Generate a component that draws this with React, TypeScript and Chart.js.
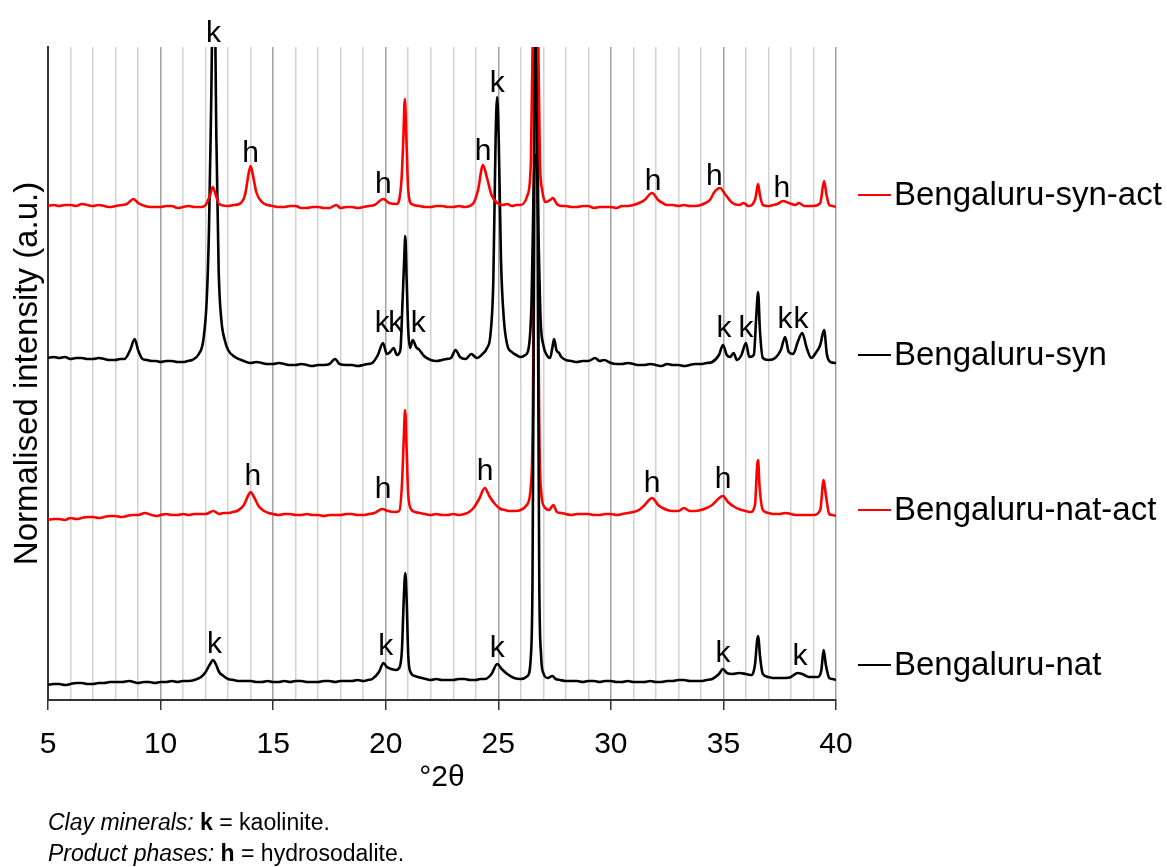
import { useEffect, useRef } from "react";
import { Chart, registerables } from "chart.js";

Chart.register(...registerables);

type Pt = [number, number];

const FONT = "'Liberation Sans', Arial, Helvetica, sans-serif";

// Series names, colours and the level (a.u.) at which each right-hand label sits
const SERIES_NAMES = ["Bengaluru-syn-act", "Bengaluru-syn", "Bengaluru-nat-act", "Bengaluru-nat"];
const SERIES_COLORS = ["#ff0000", "#000000", "#ff0000", "#000000"];
const LABEL_LEVELS = [505, 345, 190, 35];

// Diffractograms, [°2θ, normalised intensity with vertical offset]
const SYN_ACT: Pt[] = [
  [5.0, 494], [5.25, 495], [5.5, 494], [5.75, 495], [6.0, 495], [6.25, 494], [6.5, 496], [6.75, 495],
  [7.0, 494], [7.25, 495], [7.5, 494], [7.75, 493], [8.0, 494], [8.3, 495], [8.5, 496],
  [8.8, 501], [9.0, 497], [9.3, 494], [9.6, 493], [10.0, 493], [10.25, 494], [10.5, 494], [10.75, 492], [11.0, 493],
  [11.25, 494], [11.5, 493], [11.8, 493], [12.0, 495],
  [12.2, 505], [12.32, 513], [12.45, 505], [12.6, 496], [13.0, 494], [13.25, 495], [13.5, 496], [13.75, 505], [13.9, 525],
  [14.0, 534], [14.1, 525], [14.25, 508], [14.5, 498], [14.75, 495], [15.0, 494], [15.25, 493], [15.5, 493], [15.75, 494],
  [16.0, 494], [16.25, 492], [16.5, 492], [16.75, 493], [17.0, 493], [17.25, 492], [17.5, 492], [17.8, 495], [18.0, 492],
  [18.25, 493], [18.5, 493], [18.75, 492], [19.0, 493], [19.25, 494], [19.5, 495], [19.9, 501],
  [20.15, 497], [20.5, 496], [20.7, 520], [20.78, 560], [20.85, 601], [20.92, 560], [21.0, 510], [21.15, 496],
  [21.5, 494], [21.75, 493], [22.0, 493], [22.25, 494], [22.5, 494], [22.75, 493], [23.0, 493], [23.25, 494],
  [23.5, 493], [23.9, 497], [24.1, 510], [24.32, 535],
  [24.5, 522], [24.7, 505], [24.95, 497], [25.2, 495], [25.4, 496], [25.6, 494], [25.8, 495], [26.0, 495], [26.3, 505],
  [26.45, 540], [26.55, 700], [26.65, 800], [26.75, 700], [26.85, 540], [26.95, 510], [27.1, 498], [27.3, 500],
  [27.43, 502], [27.6, 496], [27.8, 494], [28.0, 494], [28.25, 493], [28.5, 493], [28.75, 494], [29.0, 494],
  [29.25, 492], [29.5, 493], [29.75, 493], [30.0, 493], [30.25, 492], [30.5, 494], [30.75, 494],
  [31.0, 495], [31.25, 497], [31.5, 500], [31.83, 507], [32.1, 500], [32.3, 497], [32.5, 495], [32.75, 495], [33.0, 494],
  [33.25, 495], [33.5, 494], [33.75, 494], [34.0, 495],
  [34.2, 497], [34.4, 500], [34.6, 508], [34.85, 512], [35.1, 505], [35.4, 497], [35.7, 495], [35.9, 497], [36.1, 494],
  [36.4, 500], [36.5, 512], [36.54, 516], [36.62, 505], [36.75, 495], [37.0, 494], [37.2, 495], [37.4, 496], [37.65, 499],
  [37.9, 497], [38.2, 495], [38.35, 497], [38.6, 494], [38.8, 494], [39.0, 494], [39.3, 497], [39.47, 519], [39.58, 505],
  [39.7, 495], [39.85, 494], [40.0, 493],
];

const SYN: Pt[] = [
  [5.0, 342], [5.25, 343], [5.5, 342], [5.75, 343], [6.0, 341], [6.25, 342], [6.5, 342], [6.75, 341],
  [7.0, 341], [7.25, 342], [7.5, 341], [7.75, 340], [8.0, 340], [8.2, 341], [8.4, 341],
  [8.65, 350], [8.85, 361], [9.0, 350], [9.2, 341], [9.4, 340], [9.6, 339], [9.8, 339], [10.0, 338], [10.25, 339],
  [10.5, 339], [10.75, 338], [11.0, 338], [11.2, 339],
  [11.4, 340], [11.7, 346], [11.9, 360], [12.05, 400], [12.15, 470], [12.25, 600], [12.32, 700], [12.4, 700],
  [12.48, 560], [12.58, 430], [12.7, 380], [12.85, 360], [13.0, 350], [13.3, 343], [13.7, 339], [14.0, 337],
  [14.25, 338], [14.5, 337], [14.75, 336], [15.0, 336], [15.25, 337], [15.5, 336], [15.75, 335], [16.0, 335],
  [16.25, 336], [16.5, 335], [16.75, 334], [17.0, 335], [17.25, 335], [17.5, 336], [17.75, 341],
  [17.95, 336], [18.25, 335], [18.5, 335], [18.75, 334], [19.0, 335], [19.2, 336], [19.4, 337], [19.65, 345], [19.88, 357],
  [20.05, 346], [20.2, 348],
  [20.35, 352], [20.5, 345], [20.65, 350], [20.75, 400], [20.82, 440], [20.87, 464], [20.93, 420], [21.0, 370],
  [21.08, 352], [21.2, 360], [21.35, 353], [21.5, 350], [21.7, 344], [22.0, 340], [22.25, 339], [22.5, 340], [22.7, 341],
  [22.9, 342],
  [23.1, 350], [23.3, 343], [23.55, 341], [23.8, 346], [24.05, 342], [24.3, 346], [24.5, 352], [24.65, 365],
  [24.78, 420], [24.88, 560], [24.95, 603], [25.02, 560], [25.12, 440], [25.25, 380], [25.4, 355], [25.6, 348],
  [25.8, 345], [26.0, 343], [26.2, 345], [26.35, 352], [26.48, 400], [26.56, 500], [26.63, 545], [26.7, 545], [26.78, 470],
  [26.88, 380], [27.0, 355], [27.15, 345], [27.3, 342], [27.4, 352], [27.48, 361], [27.58, 350], [27.7, 347],
  [27.8, 343], [28.0, 340], [28.25, 339], [28.5, 338], [28.75, 339], [29.0, 339], [29.3, 342], [29.5, 339],
  [29.7, 340], [30.0, 337],
  [30.25, 336], [30.5, 336], [30.75, 337], [31.0, 336], [31.25, 335], [31.5, 335], [31.75, 336], [32.0, 335],
  [32.25, 334], [32.5, 336], [32.75, 335], [33.0, 335], [33.25, 334], [33.5, 335], [33.75, 336], [34.0, 336],
  [34.25, 337], [34.5, 338], [34.8, 345], [34.98, 355], [35.15, 345], [35.3, 343], [35.45, 347], [35.6, 340], [35.8, 345],
  [36.0, 357], [36.15, 343], [36.35, 345], [36.45, 380], [36.54, 408], [36.62, 370], [36.75, 342], [37.0, 340],
  [37.3, 342], [37.55, 350], [37.74, 363], [37.9, 348], [38.1, 346], [38.3, 358], [38.5, 367], [38.7, 352],
  [38.9, 342], [39.1, 347], [39.3, 355], [39.47, 370], [39.6, 345], [39.75, 338], [40.0, 337],
];

const NAT_ACT: Pt[] = [
  [5.0, 180], [5.25, 181], [5.5, 181], [5.75, 180], [6.0, 182], [6.25, 181], [6.5, 182], [6.75, 183],
  [7.0, 183], [7.25, 182], [7.5, 183], [7.75, 184], [8.0, 184], [8.25, 183], [8.5, 184], [8.75, 185],
  [9.0, 185], [9.3, 187], [9.6, 185], [9.8, 184], [10.0, 185], [10.25, 186], [10.5, 185], [10.75, 185], [11.0, 186],
  [11.25, 185], [11.5, 186], [11.75, 186], [12.0, 186],
  [12.35, 189], [12.6, 186], [12.8, 187], [13.0, 187], [13.2, 188], [13.4, 189], [13.7, 195], [13.9, 205], [14.0, 208],
  [14.15, 203],
  [14.35, 194], [14.6, 189], [14.8, 187], [15.0, 186], [15.25, 185], [15.5, 186], [15.75, 186], [16.0, 185],
  [16.25, 185], [16.5, 186], [16.75, 185], [17.0, 185], [17.25, 184], [17.5, 185], [17.75, 185],
  [18.0, 185], [18.25, 186], [18.5, 186], [18.75, 185], [19.0, 185], [19.25, 186], [19.5, 187], [19.85, 191],
  [20.1, 189], [20.4, 188], [20.6, 189],
  [20.72, 215], [20.8, 260], [20.86, 290], [20.93, 250], [21.0, 205], [21.15, 190], [21.3, 188], [21.5, 187],
  [21.75, 186], [22.0, 185], [22.25, 186],
  [22.5, 185], [22.75, 185], [23.0, 186], [23.25, 185], [23.5, 186], [23.7, 188], [23.9, 192], [24.15, 201], [24.4, 212],
  [24.6, 204], [24.85, 196],
  [25.1, 191], [25.3, 190], [25.5, 189], [25.75, 189], [26.0, 190], [26.3, 196], [26.45, 215], [26.55, 330], [26.62, 800],
  [26.72, 800],
  [26.8, 330], [26.9, 210], [27.05, 193], [27.25, 190], [27.45, 195], [27.6, 188], [27.8, 187], [28.0, 186],
  [28.25, 185], [28.5, 186], [28.75, 186],
  [29.0, 186], [29.25, 185], [29.5, 185], [29.75, 186], [30.0, 186], [30.25, 185], [30.5, 186], [30.75, 187], [31.0, 188],
  [31.25, 190], [31.5, 195], [31.83, 202], [32.1, 195],
  [32.3, 192], [32.5, 190], [32.75, 189], [33.0, 189], [33.25, 192], [33.5, 189], [33.75, 189], [34.0, 190], [34.25, 192],
  [34.5, 195], [34.98, 204], [35.2, 198],
  [35.5, 193], [35.8, 190], [36.0, 189], [36.2, 188], [36.4, 195], [36.5, 235], [36.54, 240], [36.6, 215], [36.75, 190],
  [37.0, 187], [37.25, 186], [37.5, 186], [37.75, 187], [38.0, 186], [38.25, 185], [38.5, 185], [38.75, 185], [39.0, 185],
  [39.3, 190], [39.45, 220], [39.55, 205],
  [39.7, 186], [39.85, 185], [40.0, 184],
];

const NAT: Pt[] = [
  [5.0, 15], [5.25, 16], [5.5, 16], [5.75, 15], [6.0, 16], [6.25, 17], [6.5, 17], [6.75, 16], [7.0, 16],
  [7.25, 17], [7.5, 17], [7.75, 18], [8.0, 18], [8.3, 18], [8.6, 19],
  [9.0, 17], [9.25, 18], [9.5, 18], [9.75, 17], [10.0, 18], [10.25, 18], [10.5, 19], [10.75, 18], [11.0, 19],
  [11.25, 19], [11.5, 20], [11.8, 23], [12.0, 28],
  [12.2, 36], [12.33, 40], [12.45, 36], [12.6, 28], [12.8, 24], [13.0, 21], [13.25, 20], [13.5, 19], [13.75, 19],
  [14.0, 19], [14.25, 18],
  [14.5, 18], [14.75, 19], [15.0, 18], [15.25, 18], [15.5, 19], [15.75, 18], [16.0, 19], [16.25, 19], [16.5, 18],
  [16.75, 18], [17.0, 18], [17.25, 19], [17.5, 19], [17.75, 18], [18.0, 19],
  [18.25, 19], [18.5, 19], [18.75, 20], [19.0, 19], [19.2, 20], [19.4, 21], [19.7, 28], [19.9, 37], [20.05, 33],
  [20.25, 31], [20.45, 30],
  [20.6, 32], [20.72, 50], [20.8, 100], [20.87, 127], [20.93, 100], [21.0, 45], [21.1, 28], [21.3, 24],
  [21.6, 22], [21.8, 21], [22.0, 20], [22.25, 21], [22.5, 20], [22.75, 20], [23.0, 20], [23.25, 21], [23.5, 21],
  [23.75, 20], [24.0, 20], [24.2, 21], [24.4, 21], [24.7, 26],
  [24.95, 36], [25.15, 31], [25.4, 26], [25.7, 22], [26.0, 21], [26.3, 24], [26.45, 45], [26.52, 120],
  [26.58, 400], [26.64, 700], [26.7, 700], [26.76, 400], [26.82, 120], [26.9, 45], [27.0, 27], [27.2, 22],
  [27.4, 24], [27.55, 21], [27.75, 20], [28.0, 19], [28.25, 19], [28.5, 19], [28.75, 18], [29.0, 19], [29.25, 19],
  [29.5, 18], [29.75, 19], [30.0, 19], [30.25, 18], [30.5, 18], [30.75, 19],
  [31.0, 18], [31.25, 18], [31.5, 18], [31.75, 19], [32.0, 18], [32.25, 18], [32.5, 19], [32.75, 19], [33.0, 20],
  [33.25, 20], [33.5, 19], [33.75, 19], [34.0, 19], [34.25, 20], [34.5, 21],
  [34.8, 26], [34.98, 31], [35.15, 27], [35.4, 26], [35.7, 27], [36.0, 26], [36.25, 25], [36.4, 35],
  [36.5, 60], [36.55, 64], [36.62, 45], [36.75, 26], [37.0, 23], [37.25, 22], [37.5, 22], [37.75, 22], [38.0, 23],
  [38.3, 27],
  [38.5, 26], [38.8, 23], [39.0, 23], [39.2, 23], [39.35, 30], [39.45, 50], [39.55, 35], [39.7, 22], [39.85, 21],
  [40.0, 20],
];

// Phase markers: [°2θ, baseline level (a.u.), letter]
const PHASE_TAGS: [number, number, string][] = [
  [12.35, 658, "k"], [14.0, 538, "h"], [19.9, 507, "h"], [24.32, 540, "h"], [24.95, 608, "k"],
  [31.88, 510, "h"], [34.6, 515, "h"], [37.6, 503, "h"],
  [19.85, 368, "k"], [20.45, 368, "k"], [21.44, 368, "k"], [35.03, 363, "k"], [36.0, 363, "k"],
  [37.74, 372, "k"], [38.45, 372, "k"],
  [14.1, 215, "h"], [19.88, 202, "h"], [24.41, 220, "h"], [31.83, 208, "h"], [34.98, 212, "h"],
  [12.4, 47, "k"], [20.0, 45, "k"], [24.95, 43, "k"], [34.98, 38, "k"], [38.4, 35, "k"],
];

const X_MIN = 5;
const X_MAX = 40;
const Y_MAX = 653;

// Key below the chart: [text, font style]
const FOOTER_LINES: [string, string][][] = [
  [["Clay minerals:", "italic"], [" ", "normal"], ["k", "bold"], [" = kaolinite.", "normal"]],
  [["Product phases:", "italic"], [" ", "normal"], ["h", "bold"], [" = hydrosodalite.", "normal"]],
];

const overlayPlugin = {
  id: "xrdOverlay",
  afterDraw(chart: any) {
    const { ctx, chartArea, scales } = chart;
    const xs = scales.x;
    const ys = scales.y;
    ctx.save();

    // peak letters
    ctx.fillStyle = "#000";
    ctx.font = `30px ${FONT}`;
    ctx.textAlign = "center";
    ctx.textBaseline = "alphabetic";
    PHASE_TAGS.forEach(([x, v, t]) => {
      ctx.fillText(t, xs.getPixelForValue(x), ys.getPixelForValue(v));
    });

    // series labels on the right
    ctx.textAlign = "left";
    ctx.textBaseline = "middle";
    ctx.font = `33px ${FONT}`;
    SERIES_NAMES.forEach((name, i) => {
      const y = ys.getPixelForValue(LABEL_LEVELS[i]);
      ctx.strokeStyle = SERIES_COLORS[i];
      ctx.lineWidth = 2;
      ctx.beginPath();
      ctx.moveTo(chartArea.right + 22, y);
      ctx.lineTo(chartArea.right + 55, y);
      ctx.stroke();
      ctx.fillStyle = "#000";
      ctx.fillText(name, chartArea.right + 58, y + 1);
    });

    // key
    ctx.textBaseline = "alphabetic";
    FOOTER_LINES.forEach((segs, li) => {
      let x = 48;
      const y = 830 + li * 31;
      segs.forEach(([text, style]) => {
        ctx.font =
          style === "italic" ? `italic 23px ${FONT}` : style === "bold" ? `bold 23px ${FONT}` : `23px ${FONT}`;
        ctx.fillStyle = "#000";
        ctx.fillText(text, x, y);
        x += ctx.measureText(text).width;
      });
    });
    ctx.restore();
  },
};

export default function App() {
  const canvasRef = useRef<HTMLCanvasElement | null>(null);

  useEffect(() => {
    const canvas = canvasRef.current;
    if (!canvas) return;
    const seriesData = [SYN_ACT, SYN, NAT_ACT, NAT];
    const chart = new Chart(canvas, {
      type: "line",
      data: {
        datasets: seriesData.map((d, i) => ({
          label: SERIES_NAMES[i],
          data: d.map(([x, y]) => ({ x, y })),
          borderColor: SERIES_COLORS[i],
          borderWidth: 2.6,
          pointRadius: 0,
          cubicInterpolationMode: "monotone",
          fill: false,
          order: [0, 2, 3, 1][i],
        })),
      },
      options: {
        responsive: false,
        animation: false,
        events: [],
        layout: { padding: { left: 4, top: 47, right: 331, bottom: 67 } },
        plugins: {
          legend: { display: false },
          tooltip: { enabled: false },
          title: { display: false },
        },
        scales: {
          x: {
            type: "linear",
            min: X_MIN,
            max: X_MAX,
            afterFit: (scale: any) => {
              scale.height = 100;
            },
            ticks: {
              stepSize: 1,
              autoSkip: false,
              maxRotation: 0,
              padding: 17,
              color: "#000",
              font: { family: FONT, size: 30 },
              callback: (v: any) => (Number(v) % 5 === 0 ? String(v) : ""),
            },
            grid: {
              drawTicks: true,
              tickLength: 10,
              lineWidth: 1.5,
              color: (c: any) => (c.tick && c.tick.value % 5 === 0 ? "#a0a0a0" : "#d2d2d2"),
              tickColor: (c: any) => (c.tick && c.tick.value % 5 === 0 ? "#333" : "rgba(0,0,0,0)"),
            },
            border: { display: true, color: "#333", width: 2 },
            title: {
              display: true,
              text: "°2θ",
              color: "#000",
              font: { family: FONT, size: 30 },
            },
          },
          y: {
            type: "linear",
            min: 0,
            max: Y_MAX,
            afterFit: (scale: any) => {
              scale.width = 44;
            },
            ticks: { display: false },
            grid: { display: false },
            border: { display: true, color: "#333", width: 2 },
            title: {
              display: true,
              text: "Normalised intensity (a.u.)",
              color: "#000",
              font: { family: FONT, size: 33 },
            },
          },
        },
      },
      plugins: [overlayPlugin],
    } as any);
    return () => chart.destroy();
  }, []);

  return (
    <div style={{ position: "fixed", left: 0, top: 0, width: 1167, height: 867, background: "#fff" }}>
      <canvas ref={canvasRef} width={1167} height={867} style={{ display: "block" }} />
    </div>
  );
}
